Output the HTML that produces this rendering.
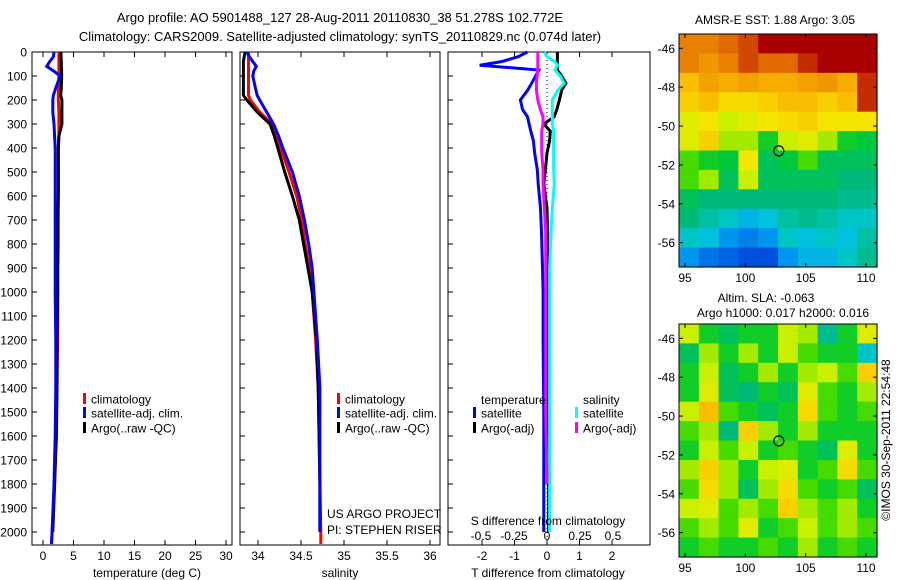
<!DOCTYPE html>
<html><head><meta charset="utf-8">
<style>
html,body{margin:0;padding:0;background:#fff;}
svg{display:block;font-family:"Liberation Sans",Arial,sans-serif;}
text{fill:#000;}
</style></head>
<body>
<svg id="chart" width="900" height="580" viewBox="0 0 900 580" xmlns="http://www.w3.org/2000/svg">
<text x="340" y="22" font-size="13" text-anchor="middle">Argo profile: AO 5901488_127 28-Aug-2011 20110830_38 51.278S 102.772E</text>
<text x="340" y="41" font-size="13" text-anchor="middle">Climatology: CARS2009. Satellite-adjusted climatology: synTS_20110829.nc (0.074d later)</text>
<g id="g1"></g>
<g id="g2"></g>
<g id="g3"></g>
<g id="m1"></g>
<g id="m2"></g>
<text transform="translate(890,440) rotate(-90)" font-size="12" text-anchor="middle">©IMOS 30-Sep-2011 22:54:48</text>
</svg>
<script>
// ---- data ----
const depths = [0,20,40,60,80,100,150,180,200,250,300,350,400,500,600,700,800,900,1000,1200,1400,1600,1800,2000,2050];
const tempClim = [2.6,2.6,2.6,2.6,2.6,2.6,2.55,2.5,2.5,2.6,2.6,2.6,2.5,2.5,2.5,2.5,2.5,2.45,2.45,2.4,2.3,2.1,1.9,1.5,1.4];
const tempSat  = [1.8,1.7,1.1,0.6,1.8,2.8,2.1,1.7,1.6,1.6,1.8,1.9,2.0,2.0,2.0,2.0,2.0,2.0,2.0,2.1,2.1,2.0,1.8,1.5,1.4];
const tempArgo = [2.95,2.95,3.0,3.0,3.05,3.05,3.0,2.9,3.1,3.1,3.1,2.6,2.5,2.5,2.5,2.4,2.4,2.4,2.4,2.3,2.3,2.2,1.9,1.6,null];
const salClim = [33.89,33.89,33.89,33.89,33.89,33.89,33.89,33.89,33.91,34.02,34.16,34.21,34.26,34.36,34.45,34.51,34.55,34.6,34.63,34.67,34.7,34.71,34.72,34.73,34.73];
const salSat  = [33.87,33.9,33.94,33.98,33.95,33.94,33.97,33.99,34.02,34.1,34.18,34.24,34.29,34.4,34.48,34.54,34.59,34.63,34.65,34.69,34.72,34.72,34.72,34.72,null];
const salArgo = [33.85,33.84,33.83,33.83,33.83,33.83,33.83,33.83,33.87,33.99,34.14,34.19,34.23,34.31,34.4,34.48,34.53,34.58,34.63,34.68,34.7,34.71,34.72,34.72,null];
const diffDepths = [0,20,40,55,75,100,130,160,200,240,270,300,330,370,420,490,550,650,750,900,1000,1200,1500,1800,2000];
const tDiffSat  = [-0.6,-0.9,-1.4,-2.07,-0.25,-0.35,-0.47,-0.6,-0.82,-0.75,-0.6,-0.55,-0.5,-0.42,-0.38,-0.3,-0.27,-0.2,-0.17,-0.14,-0.12,-0.12,-0.1,-0.1,-0.1];
const tDiffArgo = [0.32,0.32,0.32,0.32,0.32,0.45,0.58,0.45,0.38,0.3,0.22,-0.1,0.1,0.08,0.0,-0.05,-0.1,0.0,0.02,0.02,0.0,0.0,0.0,0.05,0.05];
const sDiffSat  = [-0.02,0.0,0.06,0.08,0.06,0.1,0.13,0.08,0.04,0.04,0.04,0.04,0.05,0.05,0.05,0.05,0.055,0.04,0.03,0.02,0.02,0.02,0.02,0.02,0.02];
const sDiffArgo = [-0.07,-0.07,-0.07,-0.07,-0.07,-0.075,-0.08,-0.08,-0.07,-0.05,-0.03,-0.03,-0.04,-0.04,-0.04,-0.03,-0.03,-0.02,-0.01,-0.01,-0.01,-0.01,-0.01,0.0,null];
const depthTicks = [0,100,200,300,400,500,600,700,800,900,1000,1100,1200,1300,1400,1500,1600,1700,1800,1900,2000];
const tempTicks = [0,5,10,15,20,25,30];
const salTicks = [34,34.5,35,35.5,36];
const tDiffTicks = [-2,-1,0,1,2];
const sDiffTicks = [-0.5,-0.25,0,0.25,0.5];
const sstGrid = [
[.85,.85,.88,.92,1,1,1,1,1,1],
[.85,.82,.85,.92,.88,.88,.95,1,1,1],
[.75,.8,.78,.8,.78,.78,.8,.82,.78,.95],
[.72,.75,.7,.7,.72,.75,.75,.72,.75,.95],
[.65,.68,.62,.65,.68,.7,.72,.68,.68,.68],
[.65,.72,.6,.6,.5,.62,.65,.6,.5,.48],
[.55,.5,.48,.68,.45,.48,.55,.45,.45,.45],
[.55,.6,.45,.62,.45,.45,.45,.45,.42,.42],
[.45,.42,.42,.42,.42,.42,.42,.42,.4,.4],
[.42,.38,.35,.3,.32,.38,.4,.38,.35,.35],
[.35,.32,.25,.22,.25,.35,.32,.35,.32,.38],
[.25,.2,.18,.15,.15,.25,.3,.3,.35,.4]];
const slaGrid = [
[.62,.5,.45,.5,.5,.62,.6,.4,.5,.65],
[.45,.6,.5,.6,.5,.62,.55,.5,.5,.35],
[.5,.62,.45,.5,.6,.5,.6,.62,.55,.72],
[.5,.65,.45,.42,.5,.45,.65,.55,.5,.6],
[.62,.75,.55,.5,.45,.5,.7,.55,.5,.55],
[.55,.6,.42,.72,.6,.5,.6,.5,.5,.5],
[.5,.62,.55,.62,.5,.55,.5,.45,.65,.5],
[.6,.72,.6,.5,.62,.65,.5,.55,.7,.55],
[.55,.7,.6,.45,.6,.7,.55,.5,.55,.45],
[.62,.65,.55,.6,.55,.72,.6,.55,.6,.5],
[.55,.6,.55,.65,.5,.55,.62,.55,.6,.55],
[.5,.55,.5,.5,.55,.5,.6,.5,.55,.5]];
const lonTicks = [95,100,105,110];
const latTicks = [-46,-48,-50,-52,-54,-56];
const argoLon = 102.772, argoLat = -51.278;

const NS='http://www.w3.org/2000/svg';
function mk(parent,tag,attrs,txt){const e=document.createElementNS(NS,tag);for(const k in attrs)e.setAttribute(k,attrs[k]);if(txt!==undefined)e.textContent=txt;parent.appendChild(e);return e;}
const TOP=52, BOT=545;
const yD = d => TOP + d*0.24;
const xT = v => 43 + v*6.1;
const xS = v => 258 + (v-34)*86;
const xTd = v => 547 + v*32.5;
const xSd = v => 547 + v*132;

function line(g,ds,vals,xf,color,name,w){
  const pts=[];for(let i=0;i<ds.length;i++){if(vals[i]==null)continue;pts.push(xf(vals[i]).toFixed(1)+','+yD(ds[i]).toFixed(1));}
  const p=mk(g,'polyline',{points:pts.join(' '),fill:'none',stroke:color,'stroke-width':w||3,'stroke-linejoin':'miter'});
  
  
}
function frame(g,x0,x1,name,yLabels){
  const r=mk(g,'rect',{x:x0,y:TOP,width:x1-x0,height:BOT-TOP,fill:'none',stroke:'#000','stroke-width':1});
  
  
  depthTicks.forEach(d=>{
    mk(g,'line',{x1:x0,x2:x0+5,y1:yD(d),y2:yD(d),stroke:'#000'});
    if(yLabels){const t=mk(g,'text',{x:27,y:yD(d)+4.5,'font-size':12,'text-anchor':'end'},String(d));
      
      }
  });
}
function xticks(g,ticks,xf,ly,name){
  ticks.forEach(v=>{const x=xf(v);
    mk(g,'line',{x1:x,x2:x,y1:TOP,y2:TOP+5,stroke:'#000'});
    mk(g,'line',{x1:x,x2:x,y1:BOT,y2:BOT-5,stroke:'#000'});
    const t=mk(g,'text',{x:x,y:ly,'font-size':12,'text-anchor':'middle'},String(v));
    
    
  });
}
function legend(g,x,y,color,label){
  mk(g,'rect',{x:x,y:y-6,width:3,height:11,fill:color});
  const t=mk(g,'text',{x:x+8,y:y+4.5,'font-size':12},label);
  
  
}
// panel 1
const g1=document.getElementById('g1');
frame(g1,32,232,'temperature',true);
xticks(g1,tempTicks,xT,560,'temperature-tick-label');
line(g1,depths,tempClim,xT,'#f00','temp-climatology-line');
line(g1,depths,tempArgo,xT,'#000','temp-argo-line');
line(g1,depths,tempSat,xT,'#00f','temp-satellite-line');
mk(g1,'text',{x:147,y:577,'font-size':12,'text-anchor':'middle'},'temperature (deg C)');
legend(g1,83,399,'#f00','climatology');legend(g1,83,413,'#00f','satellite-adj. clim.');legend(g1,83,428,'#000','Argo(..raw -QC)');
// panel 2
const g2=document.getElementById('g2');
frame(g2,240,440,'salinity',false);
xticks(g2,salTicks,xS,560,'salinity-tick-label');
line(g2,depths,salClim,xS,'#f00','sal-climatology-line');
line(g2,depths,salArgo,xS,'#000','sal-argo-line');
line(g2,depths,salSat,xS,'#00f','sal-satellite-line');
mk(g2,'text',{x:340,y:577,'font-size':12,'text-anchor':'middle'},'salinity');
legend(g2,337,399,'#f00','climatology');legend(g2,337,413,'#00f','satellite-adj. clim.');legend(g2,337,428,'#000','Argo(..raw -QC)');
mk(g2,'text',{x:327,y:518,'font-size':12},'US ARGO PROJECT');
mk(g2,'text',{x:327,y:534,'font-size':12},'PI: STEPHEN RISER');
// panel 3
const g3=document.getElementById('g3');
frame(g3,448,650,'difference',false);
tDiffTicks.forEach(v=>{const x=xTd(v);mk(g3,'line',{x1:x,x2:x,y1:TOP,y2:TOP+5,stroke:'#000'});mk(g3,'line',{x1:x,x2:x,y1:BOT,y2:BOT-5,stroke:'#000'});
  const t=mk(g3,'text',{x:x,y:560,'font-size':12,'text-anchor':'middle'},String(v));});
sDiffTicks.forEach(v=>{const t=mk(g3,'text',{x:xSd(v),y:540,'font-size':12,'text-anchor':'middle'},String(v));});
mk(g3,'line',{x1:xTd(0),x2:xTd(0),y1:TOP,y2:BOT,stroke:'#000','stroke-dasharray':'1,3'});
line(g3,diffDepths,tDiffSat,xTd,'#00f','t-diff-satellite-line');
line(g3,diffDepths,tDiffArgo,xTd,'#000','t-diff-argo-line');
line(g3,diffDepths,sDiffSat,xSd,'#0ff','s-diff-satellite-line');
line(g3,diffDepths,sDiffArgo,xSd,'#f0f','s-diff-argo-line');
mk(g3,'text',{x:548,y:525,'font-size':12,'text-anchor':'middle'},'S difference from climatology');
mk(g3,'text',{x:548,y:577,'font-size':12,'text-anchor':'middle'},'T difference from climatology');
mk(g3,'text',{x:481,y:404,'font-size':12},'temperature');
mk(g3,'text',{x:583,y:404,'font-size':12},'salinity');
legend(g3,473,413,'#00f','satellite');legend(g3,575,413,'#0ff','satellite');
legend(g3,473,428,'#000','Argo(-adj)');legend(g3,575,428,'#f0f','Argo(-adj)');

// maps
const cmapStops=[[0,0,30,170],[0.15,0,80,220],[0.25,0,150,240],[0.33,0,200,220],[0.42,0,185,120],[0.48,0,200,60],[0.54,50,215,0],[0.62,200,240,0],[0.68,245,230,0],[0.75,250,190,0],[0.82,240,150,0],[0.9,220,90,0],[1,170,0,0]];
function cmap(v){v=Math.max(0,Math.min(1,v));
  for(let i=1;i<cmapStops.length;i++){const a=cmapStops[i-1],b=cmapStops[i];
    if(v<=b[0]){const t=(v-a[0])/(b[0]-a[0]);return 'rgb('+[1,2,3].map(k=>Math.round(a[k]+(b[k]-a[k])*t)).join(',')+')';}}
  return 'rgb(170,0,0)';}
function map(g,grid,x0,x1,y0,y1,lat46y,lat56y,name){
  const rows=grid.length, cols=grid[0].length, cw=(x1-x0)/cols, ch=(y1-y0)/rows;
  for(let r=0;r<rows;r++)for(let c=0;c<cols;c++){
    const cell=mk(g,'rect',{x:(x0+c*cw).toFixed(2),y:(y0+r*ch).toFixed(2),width:(cw+0.6).toFixed(2),height:(ch+0.6).toFixed(2),fill:cmap(grid[r][c])});
    
    
  }
  mk(g,'rect',{x:x0,y:y0,width:x1-x0,height:y1-y0,fill:'none',stroke:'#000'});
  const xL=v=>685+(v-95)*12.07, yL=v=>lat46y+(-46-v)*(lat56y-lat46y)/10;
  lonTicks.forEach(v=>{const x=xL(v);mk(g,'line',{x1:x,x2:x,y1:y1,y2:y1-4,stroke:'#000'});mk(g,'line',{x1:x,x2:x,y1:y0,y2:y0+4,stroke:'#000'});
    const t=mk(g,'text',{x:x,y:y1+15,'font-size':12,'text-anchor':'middle'},String(v));});
  latTicks.forEach(v=>{const y=yL(v);mk(g,'line',{x1:x0,x2:x0+4,y1:y,y2:y,stroke:'#000'});mk(g,'line',{x1:x1,x2:x1-4,y1:y,y2:y,stroke:'#000'});
    const t=mk(g,'text',{x:675,y:y+4.5,'font-size':12,'text-anchor':'end'},String(v));});
  const m=mk(g,'circle',{cx:xL(argoLon),cy:yL(argoLat),r:5,fill:'none',stroke:'#000','stroke-width':1.2});
  
  
}
const m1=document.getElementById('m1'), m2=document.getElementById('m2');
map(m1,sstGrid,679,877,34,267,48.3,242.7,'sst');
map(m2,slaGrid,679,877,324,557,338.3,532.7,'sla');
mk(m1,'text',{x:775,y:24,'font-size':12,'text-anchor':'middle'},'AMSR-E SST: 1.88 Argo: 3.05');
mk(m2,'text',{x:766,y:302,'font-size':12,'text-anchor':'middle'},'Altim. SLA: -0.063');
mk(m2,'text',{x:783,y:317,'font-size':12,'text-anchor':'middle'},'Argo h1000: 0.017 h2000: 0.016');
</script>
</body></html>
